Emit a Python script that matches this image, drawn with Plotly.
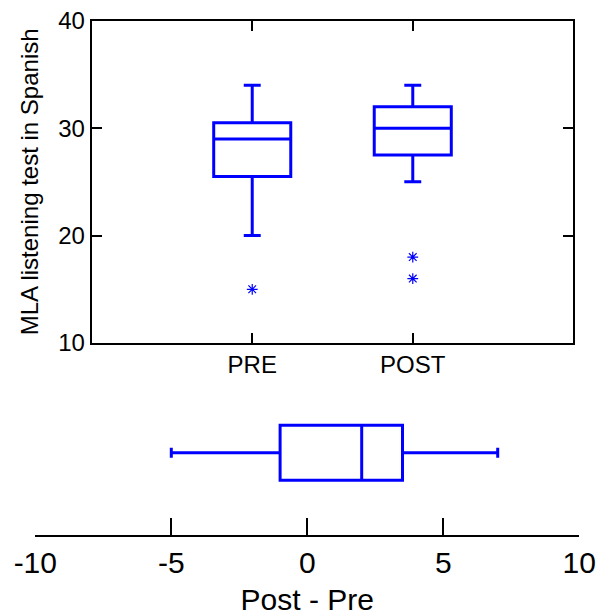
import plotly.graph_objects as go

# Top panel data (box statistics)
groups = ["PRE", "POST"]
group_pos = [1, 2]
q1_vals = [25.5, 27.5]
median_vals = [29, 30]
q3_vals = [30.5, 32]
low_whisk = [20, 25]
high_whisk = [34, 34]
outlier_x = [1, 2, 2]
outlier_y = [15, 18, 16]

# Bottom panel data (Post - Pre difference)
diff_q1 = -1
diff_median = 2
diff_q3 = 3.5
diff_low = -5
diff_high = 7
diff_ticks = [-10, -5, 0, 5, 10]
diff_ticktext = ["-10", "-5", "0", "5", "10"]
y_ticks = [10, 20, 30, 40]

BLUE = "#0000ff"
FONT = "Liberation Sans, Arial, sans-serif"

fig = go.Figure()

for i, g in enumerate(groups):
    fig.add_trace(go.Box(
        x=[group_pos[i]], q1=[q1_vals[i]], median=[median_vals[i]], q3=[q3_vals[i]],
        lowerfence=[low_whisk[i]], upperfence=[high_whisk[i]],
        name=g, width=0.48, whiskerwidth=0.22,
        line=dict(color=BLUE, width=3), fillcolor="rgba(0,0,0,0)",
        boxpoints=False, hoverinfo="skip", showlegend=False,
        xaxis="x", yaxis="y",
    ))

fig.add_trace(go.Scatter(
    x=outlier_x, y=outlier_y, mode="markers",
    marker=dict(symbol="asterisk-open", size=9, color=BLUE, line=dict(color=BLUE, width=1.2)),
    showlegend=False, hoverinfo="skip", xaxis="x", yaxis="y",
))

fig.add_trace(go.Box(
    y=[0], q1=[diff_q1], median=[diff_median], q3=[diff_q3],
    lowerfence=[diff_low], upperfence=[diff_high], orientation="h",
    width=0.668, whiskerwidth=0.18,
    line=dict(color=BLUE, width=3), fillcolor="rgba(0,0,0,0)",
    boxpoints=False, hoverinfo="skip", showlegend=False,
    xaxis="x2", yaxis="y2",
))

W, H = 597, 616
fig.update_layout(
    width=W, height=H,
    margin=dict(l=0, r=0, t=0, b=0, autoexpand=False),
    paper_bgcolor="white", plot_bgcolor="rgba(0,0,0,0)",
    font=dict(family=FONT, color="black", size=24),
    xaxis=dict(
        domain=[91.7 / W, 573.3 / W], range=[0, 3],
        tickvals=group_pos, ticktext=groups,
        ticks="inside", ticklen=10, tickwidth=2, tickcolor="black",
        showline=True, linewidth=2, linecolor="black", mirror="ticks",
        showgrid=False, zeroline=False, anchor="y", automargin=False,
        tickfont=dict(size=24), ticklabelstandoff=-1,
    ),
    yaxis=dict(
        domain=[1 - 343 / H, 1 - 20.7 / H], range=[10, 40],
        tickvals=y_ticks,
        ticks="inside", ticklen=10, tickwidth=2, tickcolor="black",
        showline=True, linewidth=2, linecolor="black", mirror="ticks",
        showgrid=False, zeroline=False, anchor="x", automargin=False,
        tickfont=dict(size=24),
        title=dict(text="MLA listening test in Spanish", font=dict(size=24), standoff=13),
    ),
    xaxis2=dict(
        domain=[35.3 / W, 579.3 / W], range=[-10, 10],
        tickvals=diff_ticks, ticktext=diff_ticktext,
        ticks="inside", ticklen=17, tickwidth=2, tickcolor="black",
        showline=True, linewidth=2, linecolor="black",
        showgrid=False, zeroline=False, anchor="y2", automargin=False,
        tickfont=dict(size=30), ticklabelstandoff=0,
        title=dict(text="Post - Pre", font=dict(size=30), standoff=14),
    ),
    yaxis2=dict(
        domain=[1 - 535 / H, 1 - 370.4 / H], range=[-1, 1],
        visible=False, anchor="x2",
    ),
)

fig.write_html("out.html", config={"displayModeBar": False},
               post_script="document.body.style.margin='0';")
